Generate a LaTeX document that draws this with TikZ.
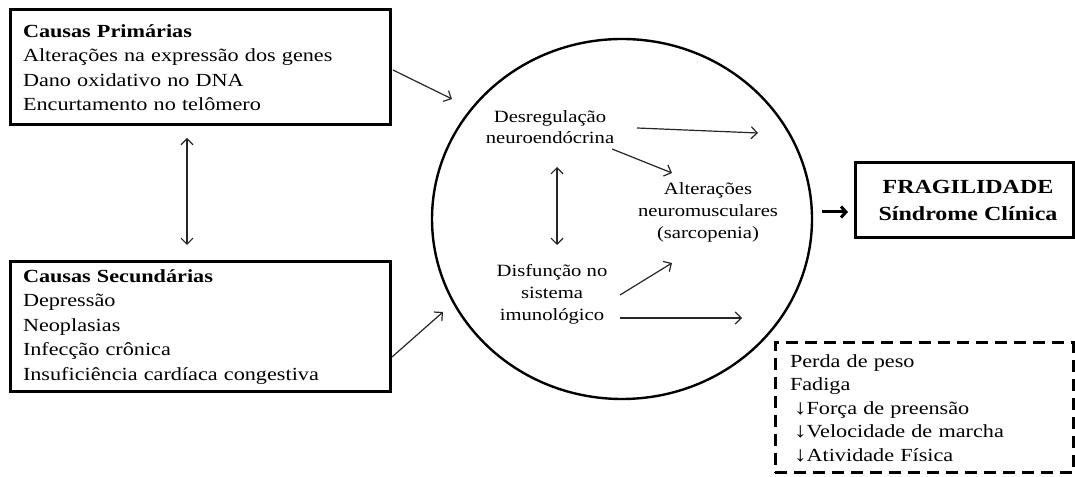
\documentclass[tikz,border=0pt]{standalone}
\usepackage{fontspec}
\setmainfont{Liberation Serif}[FakeStretch=1.2]
\usetikzlibrary{shapes.geometric,arrows.meta}

\begin{document}
\begin{tikzpicture}[x=1pt,y=1pt,
  causebox/.style={draw, line width=3pt, align=left, text width=354pt,
    inner xsep=13pt, inner ysep=0pt, minimum width=380pt,
    font=\fontsize{18.5}{24.5}\selectfont},
  signbox/.style={draw, line width=3pt, dash pattern=on 12pt off 7pt,
    align=left, text width=268pt, inner xsep=15pt, inner ysep=0pt,
    minimum width=298pt, minimum height=130pt,
    font=\fontsize{18.5}{23.5}\selectfont},
  ringtext/.style={align=center, inner sep=0pt,
    font=\fontsize{17.2}{22}\selectfont},
  link/.style={draw=black!85, line width=1.2pt,
    -{Straight Barb[length=6pt,width=12pt]}},
  twoway/.style={draw=black!85, line width=1.2pt,
    {Straight Barb[length=6pt,width=12pt]}-{Straight Barb[length=6pt,width=12pt]}},
  bold arrow/.style={draw=black, line width=3pt,
    -{Straight Barb[length=5pt,width=11pt]}}
]
\useasboundingbox (0,0) rectangle (1075,476);

% cause boxes
\node[causebox, minimum height=115pt] (prim) at (200,408.5)
  {\textbf{Causas Primárias}\\
   Alterações na expressão dos genes\\
   Dano oxidativo no DNA\\
   Encurtamento no telômero};
\node[causebox, minimum height=130pt] (sec) at (200,149)
  {\textbf{Causas Secundárias}\\
   Depressão\\
   Neoplasias\\
   Infecção crônica\\
   Insuficiência cardíaca congestiva};

% central mechanisms
\node[draw, ellipse, line width=2.4pt, minimum width=380pt, minimum height=360pt,
  inner sep=0pt] (circ) at (622,257) {};
\node[ringtext] (desr) at (550,348.5) {Desregulação\\[-1pt]neuroendócrina};
\node[ringtext] (alt) at (708,263.5) {Alterações\\neuromusculares\\(sarcopenia)};
\node[ringtext] (disf) at (552,181.5) {Disfunção no\\sistema\\imunológico};

% outcome
\node[draw, line width=3pt, minimum width=218pt, minimum height=75pt,
  align=center, inner sep=0pt, font=\bfseries\fontsize{20}{27}\selectfont]
  (frag) at (964,275.5) {\hspace*{8pt}FRAGILIDADE\\\hspace*{8pt}Síndrome Clínica};

% clinical signs
\node[signbox] (sinais) at (924,68)
  {Perda de peso\\
   Fadiga\\
   \hspace*{4pt}{\fontsize{21}{21}\selectfont ↓}Força de preensão\\
   \hspace*{4pt}{\fontsize{21}{21}\selectfont ↓}Velocidade de marcha\\
   \hspace*{4pt}{\fontsize{21}{21}\selectfont ↓}Atividade Física};

% free arrow ends
\coordinate (inA) at (452,377);
\coordinate (inB) at (443,164);
\coordinate (out1) at (758,343);
\coordinate (out2) at (742,158);

% connectors
\draw[twoway] ([shift={(-13,-70.5)}]prim.center) -- ([shift={(-13,82)}]sec.center);
\draw[link] ([shift={(193,-2.5)}]prim.center) -- (inA);
\draw[link] ([shift={(192,-30)}]sec.center) -- (inB);
\draw[link] ([shift={(87,-0.5)}]desr.center) -- (out1);
\draw[link] ([shift={(62,-21.5)}]desr.center) -- ([shift={(-36,39.5)}]alt.center);
\draw[twoway] ([shift={(7,-39.5)}]desr.center) -- ([shift={(5,49.5)}]disf.center);
\draw[link] ([shift={(68,-0.5)}]disf.center) -- ([shift={(-36,-50.5)}]alt.center);
\draw[link] ([shift={(68,-23.5)}]disf.center) -- (out2);
\draw[bold arrow] ([shift={(200,7)}]circ.center) -- ([shift={(-116,-11.5)}]frag.center);
\end{tikzpicture}
\end{document}
